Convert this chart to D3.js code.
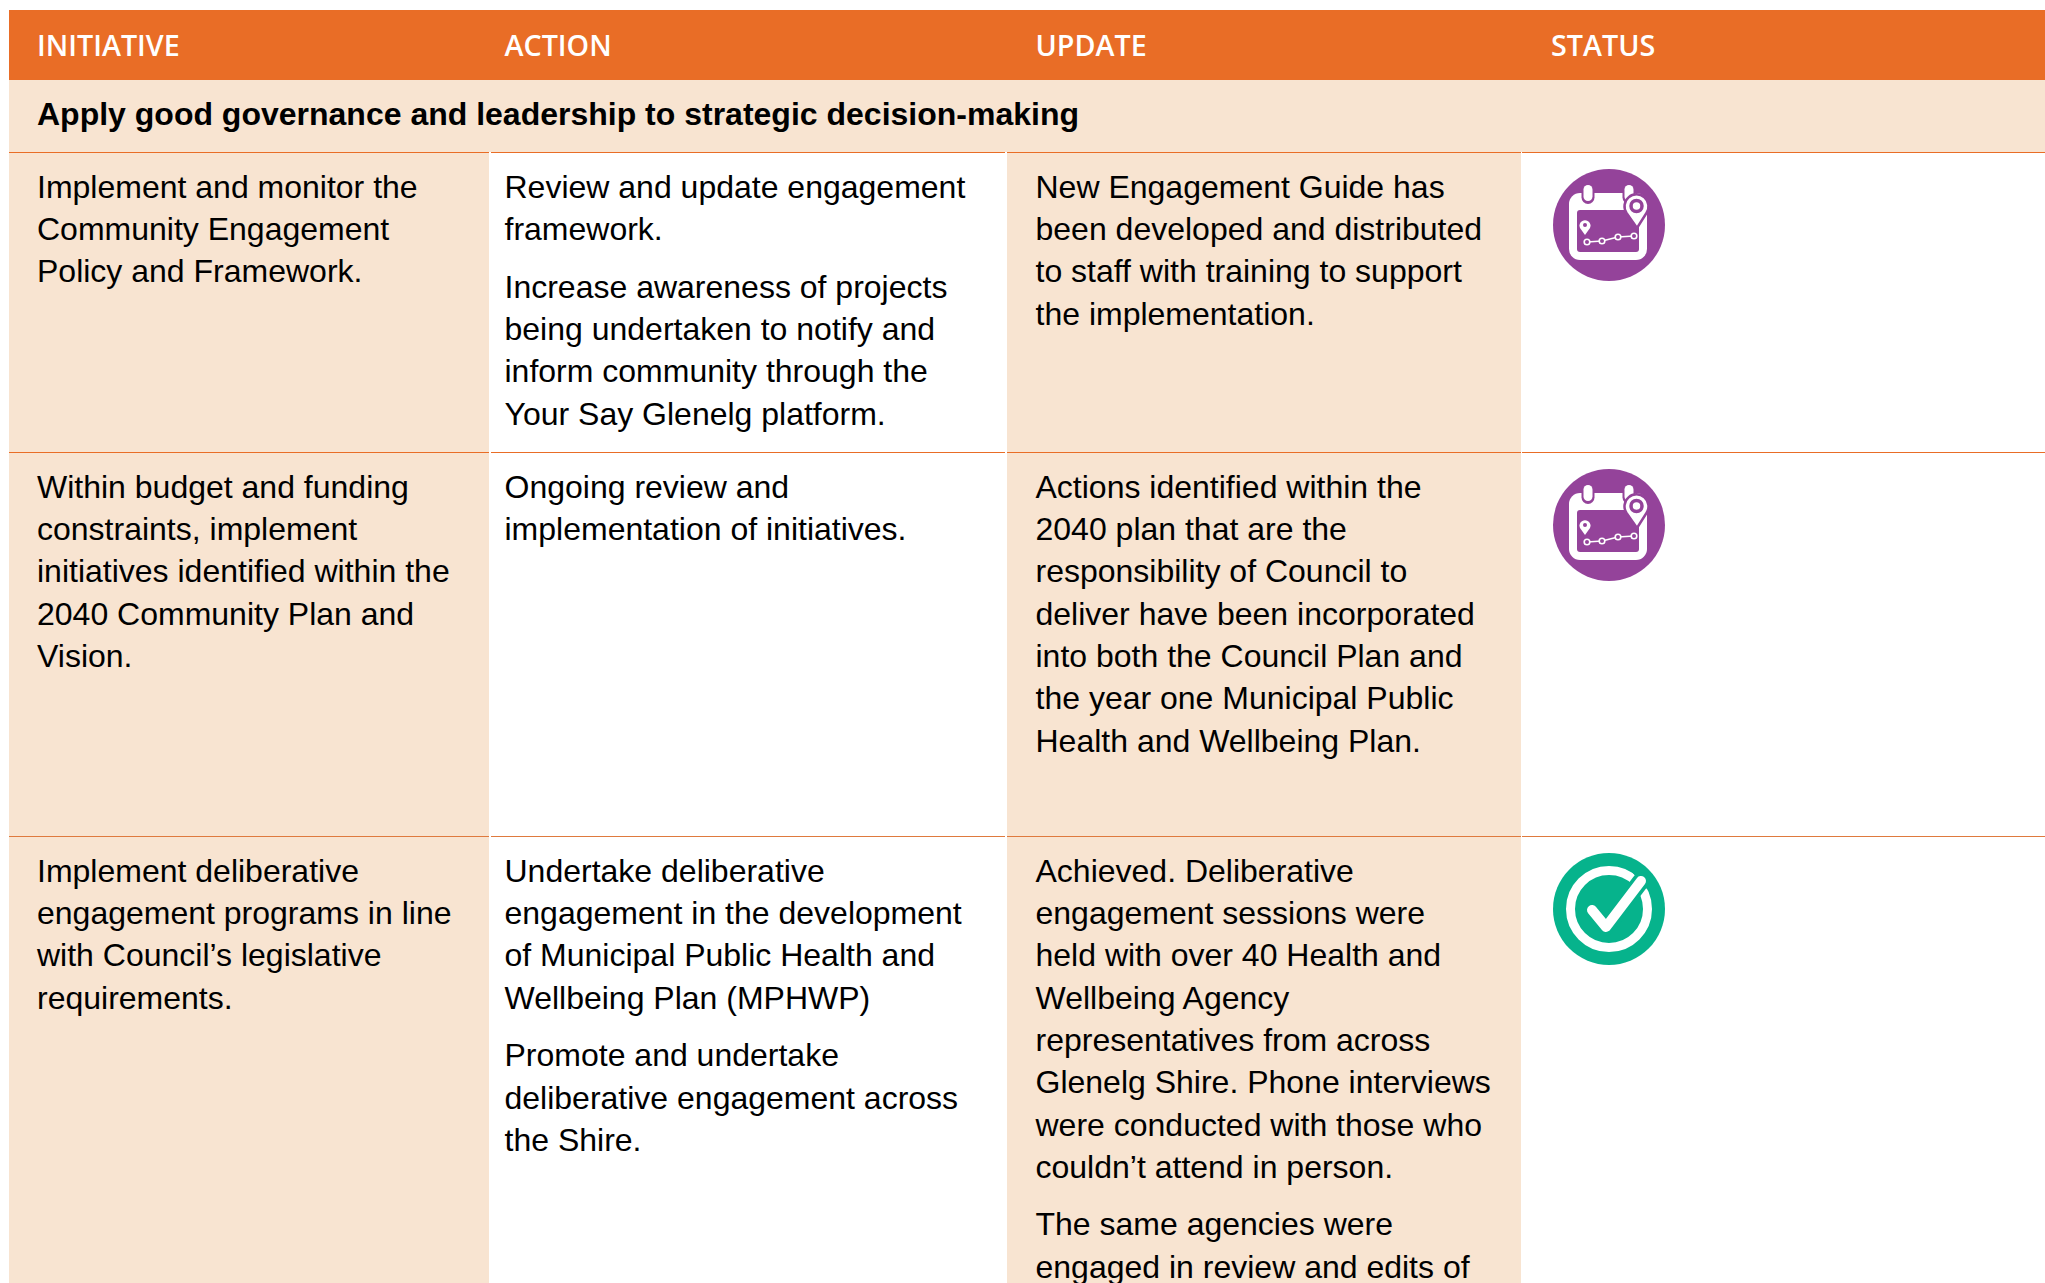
<!DOCTYPE html>
<html>
<head>
<meta charset="utf-8">
<script src="https://d3js.org/d3.v7.min.js"></script>
<style>
html, body { margin: 0; padding: 0; background: #fff; overflow: hidden; }
svg { display: block; }
.head { font-family: "Open Sans", sans-serif; font-size: 28.7px; font-weight: 600; fill: #fff; }
.sub { font-family: "Liberation Sans", Arial, sans-serif; font-size: 32px; font-weight: bold; fill: #000; }
.cell { font-family: "Liberation Sans", Arial, sans-serif; font-size: 32px; fill: #000; }
</style>
</head>
<body>
<div class="table"></div>
<script>
var columns = ['INITIATIVE', 'ACTION', 'UPDATE', 'STATUS'];
var subhead = 'Apply good governance and leadership to strategic decision-making';
var rowIds = ['row1', 'row2', 'row3'];
var statuses = ['progress', 'progress', 'done'];

// each cell is a list of paragraphs, each paragraph a list of lines
var initiatives = [
    [['Implement and monitor the', 'Community Engagement', 'Policy and Framework.']],
    [['Within budget and funding', 'constraints, implement', 'initiatives identified within the', '2040 Community Plan and', 'Vision.']],
    [['Implement deliberative', 'engagement programs in line', 'with Council\u2019s legislative', 'requirements.']]
];
var actions = [
    [['Review and update engagement', 'framework.'],
     ['Increase awareness of projects', 'being undertaken to notify and', 'inform community through the', 'Your Say Glenelg platform.']],
    [['Ongoing review and', 'implementation of initiatives.']],
    [['Undertake deliberative', 'engagement in the development', 'of Municipal Public Health and', 'Wellbeing Plan (MPHWP)'],
     ['Promote and undertake', 'deliberative engagement across', 'the Shire.']]
];
var updates = [
    [['New Engagement Guide has', 'been developed and distributed', 'to staff with training to support', 'the implementation.']],
    [['Actions identified within the', '2040 plan that are the', 'responsibility of Council to', 'deliver have been incorporated', 'into both the Council Plan and', 'the year one Municipal Public', 'Health and Wellbeing Plan.']],
    [['Achieved. Deliberative', 'engagement sessions were', 'held with over 40 Health and', 'Wellbeing Agency', 'representatives from across', 'Glenelg Shire. Phone interviews', 'were conducted with those who', 'couldn\u2019t attend in person.'],
     ['The same agencies were', 'engaged in review and edits of']]
];

var width = 2045, height = 1283;
var orange = '#e96d26', tan = '#f8e4d1', purple = '#94439a';
var lineH = 42.3, paraGap = 15.2;

// column edges and row tops as scales
var colLeft = d3.scaleOrdinal().domain(columns).range([9, 491, 1007, 1522]);
var colRight = d3.scaleOrdinal().domain(columns).range([489, 1005, 1521, width]);
var textX = d3.scaleOrdinal().domain(columns).range([37, 504.5, 1035.5, 1551]);
var rowTop = d3.scaleOrdinal().domain(rowIds).range([152, 452, 836]);
var rowBottom = d3.scaleOrdinal().domain(rowIds).range([452, 836, height]);
var ruleColor = d3.scaleOrdinal().domain(rowIds).range([orange, orange, '#df7a3e']);

var svg = d3.select('.table').append('svg')
    .attr('width', width)
    .attr('height', height);

svg.append('rect').attr('x', 9).attr('y', 10).attr('width', width - 9).attr('height', 70).attr('fill', orange);
svg.append('rect').attr('x', 9).attr('y', 80).attr('width', width - 9).attr('height', 72).attr('fill', tan);

svg.selectAll('.head')
    .data(columns)
  .enter().append('text')
    .attr('class', 'head')
    .attr('x', function(d) { return textX(d); })
    .attr('y', 56)
    .text(function(d) { return d; });

svg.append('text')
    .attr('class', 'sub')
    .attr('x', textX('INITIATIVE'))
    .attr('y', 125)
    .text(subhead);

// tan column bands
rowIds.forEach(function(r) {
    ['INITIATIVE', 'UPDATE'].forEach(function(c) {
        svg.append('rect')
            .attr('x', colLeft(c))
            .attr('y', rowTop(r))
            .attr('width', colRight(c) - colLeft(c))
            .attr('height', rowBottom(r) - rowTop(r))
            .attr('fill', tan);
    });
});

// row rules, broken by a white gap at each column edge
rowIds.forEach(function(r) {
    columns.forEach(function(c) {
        svg.append('line')
            .attr('x1', colLeft(c))
            .attr('x2', colRight(c))
            .attr('y1', rowTop(r) + 0.5)
            .attr('y2', rowTop(r) + 0.5)
            .attr('stroke', ruleColor(r))
            .attr('stroke-width', 1.2);
    });
});

var cellCols = [initiatives, actions, updates];
cellCols.forEach(function(cells, ci) {
    cells.forEach(function(paras, ri) {
        var y = rowTop(rowIds[ri]) + 45.8;
        paras.forEach(function(lines) {
            svg.selectAll(null)
                .data(lines)
              .enter().append('text')
                .attr('class', 'cell')
                .attr('x', textX(columns[ci]))
                .attr('y', function(d, i) { return y + i * lineH; })
                .text(function(d) { return d; });
            y += lines.length * lineH + paraGap;
        });
    });
});

var iconY = d3.scaleOrdinal().domain(rowIds).range([225, 525, 909]);

function drawProgress(g) {
    g.append('circle').attr('r', 56).attr('fill', purple);
    // calendar: white block with a purple page cut into it
    g.append('rect').attr('x', -40).attr('y', -32).attr('width', 78).attr('height', 67).attr('rx', 11).attr('fill', '#fff');
    g.append('rect').attr('x', -32).attr('y', -15).attr('width', 62).attr('height', 42).attr('rx', 3).attr('fill', purple);
    // binder rings
    [-21, 20].forEach(function(x) {
        g.append('rect').attr('x', x - 6.5).attr('y', -41).attr('width', 13).attr('height', 20).attr('rx', 6.5).attr('fill', purple);
        g.append('rect').attr('x', x - 4.5).attr('y', -40).attr('width', 9).attr('height', 16).attr('rx', 4.5).attr('fill', '#fff');
    });
    // big pin
    g.append('path').attr('d', 'M28,3 L17.5,-12 A12,12 0 1 1 37.5,-12 Z')
        .attr('fill', '#fff').attr('stroke', purple).attr('stroke-width', 2.5);
    g.append('circle').attr('cx', 27.5).attr('cy', -19).attr('r', 5.5).attr('fill', '#fff')
        .attr('stroke', purple).attr('stroke-width', 3.5);
    // small pin
    g.append('path').attr('d', 'M-24,10 L-29,3 A5.5,5.5 0 1 1 -19,3 Z').attr('fill', '#fff');
    g.append('circle').attr('cx', -24).attr('cy', 0).attr('r', 2).attr('fill', purple);
    // little line with points
    var pts = [[-22, 17], [-7, 16], [9, 12], [25, 11]];
    g.append('path').attr('d', d3.line()(pts)).attr('fill', 'none').attr('stroke', '#fff').attr('stroke-width', 1.5);
    g.selectAll(null).data(pts).enter().append('circle')
        .attr('cx', function(d) { return d[0]; })
        .attr('cy', function(d) { return d[1]; })
        .attr('r', 2.8).attr('fill', purple).attr('stroke', '#fff').attr('stroke-width', 1.6);
}

function drawDone(g) {
    var green = '#06b38c';
    g.append('circle').attr('r', 56).attr('fill', green);
    g.append('circle').attr('r', 38.5).attr('fill', 'none').attr('stroke', '#fff').attr('stroke-width', 9);
    // gap in the ring behind the tick
    g.append('path').attr('d', 'M22,-38 L38,-20 L42,-36 Z').attr('fill', green);
    g.append('path').attr('d', 'M-17,1 L-3,18 L32,-28')
        .attr('fill', 'none').attr('stroke', green).attr('stroke-width', 17)
        .attr('stroke-linecap', 'round').attr('stroke-linejoin', 'round');
    g.append('path').attr('d', 'M-17,1 L-3,18 L32,-28')
        .attr('fill', 'none').attr('stroke', '#fff').attr('stroke-width', 10)
        .attr('stroke-linecap', 'round').attr('stroke-linejoin', 'round');
}

statuses.forEach(function(s, i) {
    var g = svg.append('g').attr('transform', 'translate(1609,' + iconY(rowIds[i]) + ')');
    if (s === 'done') drawDone(g); else drawProgress(g);
});
</script>
</body>
</html>
